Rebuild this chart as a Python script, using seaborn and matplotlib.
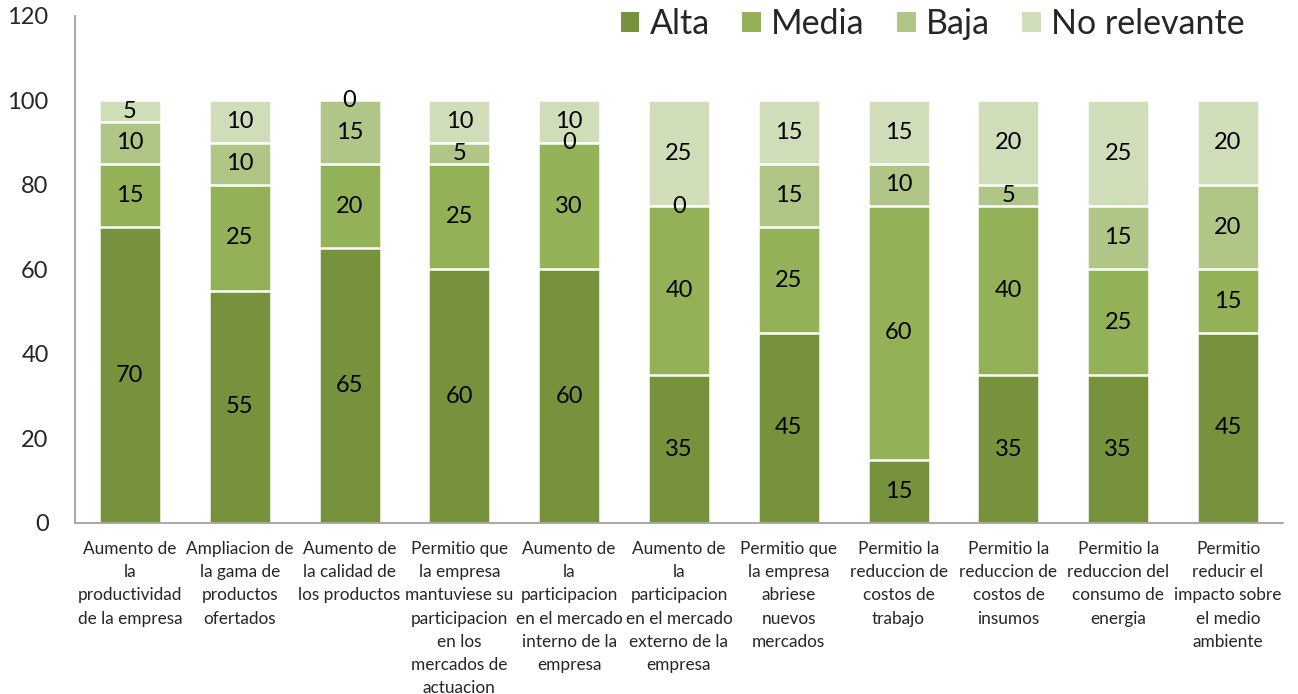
import matplotlib
matplotlib.use("Agg")
import matplotlib.pyplot as plt
from matplotlib.patches import Patch
import numpy as np
import pandas as pd
import seaborn as sns

categories = [
    "Aumento de\nla\nproductividad\nde la empresa",
    "Ampliacion de\nla gama de\nproductos\nofertados",
    "Aumento de\nla calidad de\nlos productos",
    "Permitio que\nla empresa\nmantuviese su\nparticipacion\nen los\nmercados de\nactuacion",
    "Aumento de\nla\nparticipacion\nen el mercado\ninterno de la\nempresa",
    "Aumento de\nla\nparticipacion\nen el mercado\nexterno de la\nempresa",
    "Permitio que\nla empresa\nabriese\nnuevos\nmercados",
    "Permitio la\nreduccion de\ncostos de\ntrabajo",
    "Permitio la\nreduccion de\ncostos de\ninsumos",
    "Permitio la\nreduccion del\nconsumo de\nenergia",
    "Permitio\nreducir el\nimpacto sobre\nel medio\nambiente",
]

alta = [70, 55, 65, 60, 60, 35, 45, 15, 35, 35, 45]
media = [15, 25, 20, 25, 30, 40, 25, 60, 40, 25, 15]
baja = [10, 10, 15, 5, 0, 0, 15, 10, 5, 15, 20]
no_relevante = [5, 10, 0, 10, 10, 25, 15, 15, 20, 25, 20]

series_names = ["Alta", "Media", "Baja", "No relevante"]
series_values = [alta, media, baja, no_relevante]
colors = ["#77923C", "#93B156", "#AFC686", "#D0DDB9"]

yticks = [0, 20, 40, 60, 80, 100, 120]

sns.set_theme(style="white")
plt.rcParams["font.family"] = ["Lato", "DejaVu Sans"]

fig = plt.figure(figsize=(12.98, 6.94), dpi=100)
ax = fig.add_axes([0.0578, 0.2464, 0.9306, 0.7306])

vals = np.array(series_values, dtype=float)
cum = np.cumsum(vals, axis=0)

# Draw cumulative totals from the tallest down so each series sits on the one below
for k in range(len(series_names) - 1, -1, -1):
    df = pd.DataFrame({"cat": categories, "value": cum[k]})
    sns.barplot(data=df, x="cat", y="value", color=colors[k], width=0.565,
                edgecolor="white", linewidth=1.8, saturation=1, ax=ax)

# Segment value labels
for k in range(len(series_names)):
    for i in range(len(categories)):
        base = cum[k - 1][i] if k > 0 else 0.0
        v = vals[k][i]
        ax.text(i, base + v / 2, f"{int(v)}", ha="center", va="center",
                fontsize=17, color="black")

ax.set_ylim(0, 120)
ax.set_xlim(-0.5, len(categories) - 0.5)
ax.set_yticks(yticks)
ax.set_yticklabels([str(t) for t in yticks], fontsize=17)
ax.tick_params(axis="y", length=0, pad=19)
ax.tick_params(axis="x", length=0, pad=13, labelsize=12.4)
for lbl in ax.get_xticklabels():
    lbl.set_linespacing(1.55)
ax.set_xlabel("")
ax.set_ylabel("")

for side in ["top", "right"]:
    ax.spines[side].set_visible(False)
for side in ["left", "bottom"]:
    ax.spines[side].set_color("#9a9a9a")
    ax.spines[side].set_linewidth(1.2)

legend_handles = [Patch(facecolor=c, edgecolor="none") for c in colors]
fig.legend(legend_handles, series_names, loc="center right", ncol=4, frameon=False,
           fontsize=24.5, bbox_to_anchor=(1262 / 1298, 1 - 24 / 694),
           bbox_transform=fig.transFigure, borderpad=0,
           handlelength=0.55, handleheight=0.55, handletextpad=0.3,
           columnspacing=0.95)

fig.savefig("out.png", dpi=100, facecolor="white")
